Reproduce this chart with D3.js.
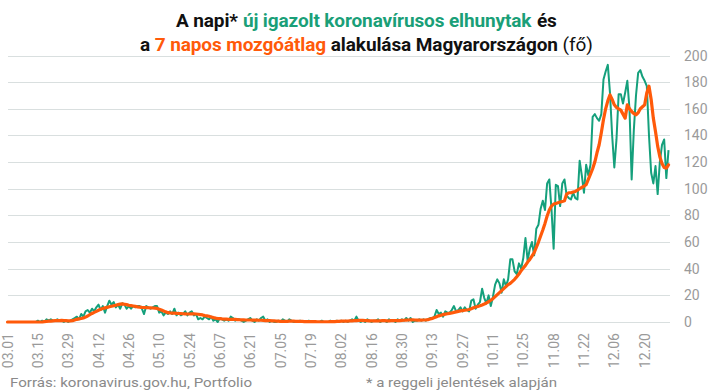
<!DOCTYPE html>
<html><head><meta charset="utf-8">
<script src="https://cdn.jsdelivr.net/npm/d3@7"></script>
<style>
html,body{margin:0;padding:0;background:#fff;}
svg{display:block;font-family:Roboto,"Noto Sans",sans-serif;}
</style></head>
<body><svg id="c" width="714" height="391"></svg>
<script>
// Daily new confirmed deaths, Hungary, 2020-03-01 .. 2020-12-31
const startDate = "2020-03-01";
const dailyMar = [0,0,0,0,0,0,0,0,0,0,0,0,0,0,1,0,1,0,2,1,2,1,1,2,1,1,0,1,0,1,2];
const dailyApr = [3,4,2,6,4,8,9,7,10,8,11,13,9,12,7,12,16,13,15,11,13,10,14,13,10,12,10,12,11,12];
const dailyMay = [12,10,6,12,11,10,11,12,12,7,8,5,7,6,8,6,10,5,7,5,6,8,5,7,8,5,6,2,3,2,4];
const dailyJun = [3,2,4,1,2,0,3,2,1,2,1,4,3,1,2,2,1,0,1,2,3,1,0,2,1,3,4,1,2,0];
const dailyJul = [1,0,0,1,0,2,1,0,2,1,0,0,0,1,0,0,0,1,0,0,0,0,0,1,0,0,0,1,0,0,1];
const dailyAug = [0,1,0,1,0,1,2,1,4,1,0,1,0,2,1,0,1,1,2,0,1,1,0,2,1,1,0,2,1,2,1];
const dailySep = [3,1,3,0,1,1,2,1,2,1,2,3,3,4,9,6,7,4,8,7,7,9,12,8,9,11,8,11,9,8];
const dailyOct = [16,17,10,13,15,25,18,14,20,12,19,28,32,29,22,32,27,32,47,47,38,36,44,40,48,63,46,55,60,50,70];
const dailyNov = [73,85,91,84,104,107,85,55,103,102,87,104,107,95,93,92,97,93,92,121,110,97,118,110,118,154,156,153,151,156];
const dailyDec = [182,188,193,172,140,116,137,171,171,164,172,181,160,107,144,170,187,189,184,181,177,140,112,104,117,96,120,133,137,108,129];

// 7-day moving average as drawn
const avgMar = [0,0,0,0,0,0,0,0,0,0,0,0,0,0,0,0,0,0.3,0.4,0.6,0.7,0.9,1,1.1,1.1,1.2,1,1,0.9,0.9,1];
const avgApr = [1.5,2,2.3,2.6,3,3.7,4.5,5.5,6.4,7.2,8,8.8,9.5,10.1,10.6,11,11.4,11.8,12.2,12.6,13,13.4,13.6,13.3,13,12.6,12.3,12,11.7,11.4];
const avgMay = [11.2,11,10.9,10.8,10.7,10.6,10.5,10.4,10.2,9.6,9,8.3,7.6,7,6.8,6.7,6.6,6.5,6.4,6.3,6.2,6.1,6,6,6.1,6.2,6,5.8,5.6,5.3,4.8];
const avgJun = [4.6,4.3,3.8,3.3,2.9,2.6,2.5,2.3,2.2,2.1,2,2,2,1.9,1.8,1.7,1.6,1.6,1.5,1.5,1.5,1.4,1.4,1.4,1.3,1.3,1.2,1.1,1.1,1];
const avgJul = [0.9,0.8,0.7,0.6,0.5,0.5,0.5,0.5,0.6,0.6,0.6,0.5,0.5,0.4,0.4,0.3,0.3,0.3,0.3,0.3,0.3,0.2,0.2,0.2,0.2,0.2,0.2,0.3,0.3,0.3,0.4];
const avgAug = [0.5,0.6,0.6,0.7,0.7,0.8,0.9,1,1.1,1.2,1.2,1.2,1.1,1,0.9,0.8,0.8,0.9,0.9,0.9,1,1,0.9,0.9,1,1,1,1.1,1.1,1.2,1.3];
const avgSep = [1.4,1.5,1.6,1.6,1.5,1.4,1.4,1.4,1.5,1.6,1.8,2.2,2.7,3.3,4,4.6,5.1,5.5,5.9,6.2,6.5,6.8,7.2,7.6,8,8.3,8.6,8.8,9,9.4];
const avgOct = [10,10.7,11.2,11.7,12.2,12.8,13.5,14.3,15.2,16.3,17.5,19,20.5,22,23.5,25,26.5,28,29,30.5,32,34,36,38.5,40.5,42.5,45,47,49.5,52,56];
const avgNov = [60,64.5,69,74,79.5,84,87,88.5,89,89.5,90,90.5,91,96,97,97,97.5,98,99,100,101,102,103,107,111,115,120,127,133,142];
const avgDec = [152,160,166,170.5,167,163,161,160,159,156,153,163,160,158,156.5,155.5,157,160,161.5,163,172,177,167,153,143,132,124,119,116,115.5,118];

const xTickLabels = ["03.01","03.15","03.29","04.12","04.26","05.10","05.24","06.07","06.21","07.05","07.19","08.02","08.16","08.30","09.13","09.27","10.11","10.25","11.08","11.22","12.06","12.20"];
const yTicks = [0,20,40,60,80,100,120,140,160,180,200];

const titleLine1 = [["A napi*", "#111", 700], ["új igazolt koronavírusos elhunytak", "#1a9f78", 700], ["és", "#111", 700]];
const titleLine2 = [["a", "#111", 700], ["7 napos mozgóátlag", "#ff5a0a", 700], ["alakulása Magyarországon", "#111", 700], ["(fő)", "#111", 400]];

const daily = [].concat(dailyMar,dailyApr,dailyMay,dailyJun,dailyJul,dailyAug,dailySep,dailyOct,dailyNov,dailyDec);
const avg = [].concat(avgMar,avgApr,avgMay,avgJun,avgJul,avgAug,avgSep,avgOct,avgNov,avgDec);
const t0 = d3.timeParse("%Y-%m-%d")(startDate);
const dates = daily.map((_, i) => d3.timeDay.offset(t0, i));
const parseTick = d3.timeParse("%Y.%m.%d");

const svg = d3.select("#c");
const x = d3.scaleTime().domain([t0, dates[dates.length-1]]).range([7.5, 668.5]);
const y = d3.scaleLinear().domain([0,200]).range([322, 55.5]);

// grid
svg.append("g").selectAll("line").data(yTicks).join("line")
  .attr("x1", 8).attr("x2", 670)
  .attr("y1", d => Math.round(y(d)) + 0.5).attr("y2", d => Math.round(y(d)) + 0.5)
  .attr("stroke", "#d9dfdf").attr("stroke-width", 1.2);

// y labels (right)
svg.append("g").selectAll("text").data(yTicks).join("text")
  .attr("x", 684).attr("y", d => y(d)).attr("dy", "0.36em")
  .attr("font-size", 14).attr("fill", "#9a9a9a").text(d => d);

// x labels rotated
svg.append("g").selectAll("text").data(xTickLabels).join("text")
  .attr("transform", d => `translate(${x(parseTick("2020." + d))},333) rotate(-90)`)
  .attr("text-anchor", "end").attr("dy", "0.36em")
  .attr("font-size", 14).attr("fill", "#9a9a9a").text(d => d);

// lines
const lineDaily = d3.line().x((d,i) => x(dates[i])).y(d => y(d));
svg.append("path").datum(daily).attr("d", lineDaily)
  .attr("fill", "none").attr("stroke", "#15a07c").attr("stroke-width", 2).attr("stroke-linejoin", "round");
svg.append("path").datum(avg).attr("d", lineDaily)
  .attr("fill", "none").attr("stroke", "#ff5a0a").attr("stroke-width", 3.2).attr("stroke-linejoin", "round").attr("stroke-linecap", "round");

// title: separate text pieces, tightened with letter-spacing to the reference width
function measure(str, weight, fs, ls) {
  const t = svg.append("text").attr("font-size", fs).attr("font-weight", weight)
    .style("letter-spacing", ls + "px").text(str);
  const w = t.node().getBBox().width; t.remove(); return w;
}
function titleLine(parts, x0, totalW, yb) {
  const fs = 19;
  const nChars = d3.sum(parts, p => p[0].length);
  const gap0 = fs * 0.25;
  const natural = d3.sum(parts, p => measure(p[0], p[2], fs, 0)) + gap0 * (parts.length - 1);
  const ls = (totalW - natural) / nChars;
  const gap = gap0 + ls;
  let cx = x0;
  parts.forEach(p => {
    const t = svg.append("text").attr("x", cx).attr("y", yb).attr("font-size", fs).attr("font-weight", p[2])
      .attr("fill", p[1]).style("letter-spacing", ls + "px").text(p[0]);
    cx += t.node().getBBox().width + gap;
  });
}
titleLine(titleLine1, 176, 381, 27);
titleLine(titleLine2, 140, 453, 51);

// footer
svg.append("text").attr("x", 10).attr("y", 387).attr("font-size", 13.5).attr("fill", "#8a8a8a")
  .attr("textLength", 242).attr("lengthAdjust", "spacingAndGlyphs").text("Forrás: koronavirus.gov.hu, Portfolio");
svg.append("text").attr("x", 366).attr("y", 387).attr("font-size", 13.5).attr("fill", "#8a8a8a")
  .attr("textLength", 191).attr("lengthAdjust", "spacingAndGlyphs").text("* a reggeli jelentések alapján");
</script></body></html>
